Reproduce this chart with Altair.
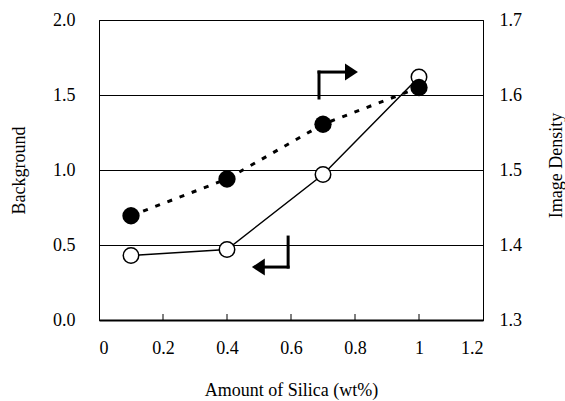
import altair as alt
import pandas as pd

# Data
silica = [0.1, 0.4, 0.7, 1.0]
background = [0.43, 0.47, 0.97, 1.62]
image_density = [1.439, 1.488, 1.561, 1.610]

x_ticks = [0, 0.2, 0.4, 0.6, 0.8, 1.0, 1.2]
left_ticks = [0.0, 0.5, 1.0, 1.5, 2.0]
right_ticks = [1.3, 1.4, 1.5, 1.6, 1.7]

# annotation arrows (data coordinates, left axis units)
seg_x = [0.6875, 0.6875, 0.591, 0.591]
seg_x2 = [0.6875, 0.769, 0.591, 0.519]
seg_y = [1.48, 1.653, 0.553, 0.353]
seg_y2 = [1.653, 1.653, 0.353, 0.353]
head_x = [0.789, 0.498]
head_y = [1.653, 0.353]
head_shape = ["M -0.76 -1 L 0.76 0 L -0.76 1 Z", "M 0.76 -1 L -0.76 0 L 0.76 1 Z"]

FONT = "Liberation Serif"

df = pd.DataFrame({"silica": silica, "background": background, "density": image_density})
segs = pd.DataFrame({"silica": seg_x, "x2": seg_x2, "background": seg_y, "y2": seg_y2})
heads = pd.DataFrame({"silica": head_x, "background": head_y, "shape": head_shape})
ticks_df = pd.DataFrame({"silica": [0.2, 0.4, 0.6, 0.8, 1.0]})

xscale = alt.Scale(domain=[0, 1.2], nice=False, zero=False)
lscale = alt.Scale(domain=[0, 2.0], nice=False, zero=False)
rscale = alt.Scale(domain=[1.3, 1.7], nice=False, zero=False)

x_axis = alt.Axis(values=x_ticks, format="~g", ticks=False, grid=False,
                  domainColor="black", domainWidth=2, labelPadding=19,
                  title="Amount of Silica (wt%)", titleX=192, titleY=75,
                  titleBaseline="alphabetic", titleAlign="center")
yl_axis = alt.Axis(orient="left", values=left_ticks, format=".1f", ticks=False,
                   grid=True, gridColor="black", gridWidth=1, gridOpacity=1,
                   domainColor="black", domainWidth=1, labelPadding=24,
                   title="Background", titleX=-75, titleY=150, titleAngle=270,
                   titleBaseline="alphabetic", titleAlign="center")
yr_axis = alt.Axis(orient="right", values=right_ticks, format=".1f", ticks=False,
                   grid=False, domainColor="black", domainWidth=1, labelPadding=16,
                   title="Image Density", titleX=78, titleY=145, titleAngle=270,
                   titleBaseline="alphabetic", titleAlign="center")

x_enc = alt.X("silica:Q", scale=xscale, axis=x_axis)
yl_enc = alt.Y("background:Q", scale=lscale, axis=yl_axis)
yr_enc = alt.Y("density:Q", scale=rscale, axis=yr_axis)

left_base = alt.Chart(df).encode(x=x_enc, y=yl_enc)
bg_line = left_base.mark_line(color="black", strokeWidth=1.5)
bg_pts = left_base.mark_point(shape="circle", filled=True, fill="white",
                              stroke="black", strokeWidth=1.5, size=240, opacity=1)

xticks = alt.Chart(ticks_df).mark_rule(color="black", strokeWidth=1).encode(
    x=x_enc, y=alt.value(300), y2=alt.value(294),
)

arrows = alt.Chart(segs).mark_rule(color="black", strokeWidth=3, strokeCap="square").encode(
    x=x_enc, x2="x2:Q", y=yl_enc, y2="y2:Q",
)
heads_ch = alt.Chart(heads).mark_point(filled=True, color="black", size=289, opacity=1).encode(
    x=x_enc, y=yl_enc,
    shape=alt.Shape("shape:N", scale=None, legend=None),
)

left_group = alt.layer(bg_line, bg_pts, xticks, arrows, heads_ch)

right_base = alt.Chart(df).encode(x=x_enc, y=yr_enc)
d_line = right_base.mark_line(color="black", strokeWidth=3, strokeDash=[5, 8])
d_pts = right_base.mark_point(shape="circle", filled=True, color="black", size=300, opacity=1)
right_group = alt.layer(d_line, d_pts)

chart = alt.layer(left_group, right_group).resolve_scale(y="independent").properties(
    width=384, height=300,
    padding={"left": 99, "top": 20, "right": 82, "bottom": 81},
    autosize=alt.AutoSizeParams(type="none"),
    background="white",
).configure_view(
    stroke="black", strokeWidth=1
).configure_axis(
    labelFont=FONT, titleFont=FONT, labelFontSize=18, titleFontSize=18,
    labelColor="black", titleColor="black", titleFontWeight="normal",
)

chart.save("out.html", embed_options={"renderer": "svg", "actions": False})
